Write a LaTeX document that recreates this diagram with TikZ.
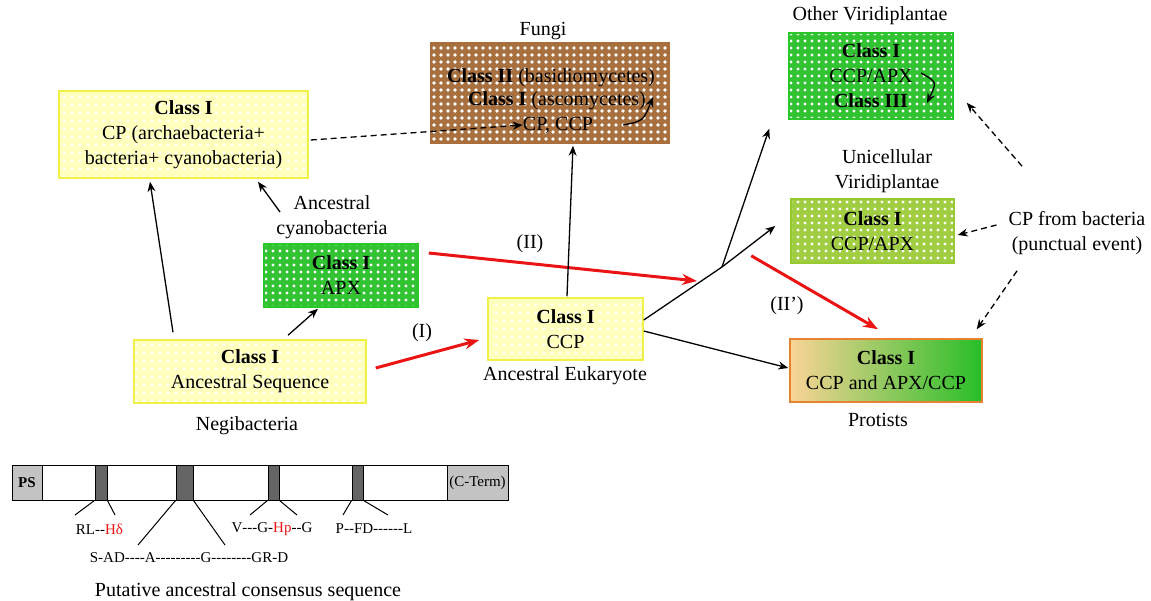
\documentclass[tikz,border=0pt]{standalone}
\usepackage{fontspec}
\setmainfont{Liberation Serif}
\usetikzlibrary{arrows.meta,patterns.meta,calc}
\definecolor{ybord}{RGB}{240,240,70}
\definecolor{yfill}{RGB}{255,255,190}
\definecolor{gbord}{RGB}{40,200,40}
\definecolor{gfill}{RGB}{50,195,50}
\definecolor{lgbord}{RGB}{150,200,50}
\definecolor{lgfill}{RGB}{160,205,65}
\definecolor{bbord}{RGB}{170,110,60}
\definecolor{bfill}{RGB}{168,112,62}
\definecolor{porange}{RGB}{250,212,150}
\definecolor{pgreen}{RGB}{40,190,40}
\definecolor{pbord}{RGB}{230,130,50}
\definecolor{redarr}{RGB}{235,20,20}
\definecolor{seqgray}{RGB}{195,195,195}
\definecolor{bandgray}{RGB}{100,100,100}
\newcommand\hy{\mbox{-}}
\begin{document}
\begin{tikzpicture}[x=1pt,y=-1pt,
  txt/.style={font=\fontsize{20}{25}\selectfont, align=center, inner sep=0pt},
  seqtxt/.style={font=\fontsize{15}{18}\selectfont, inner sep=0pt},
  boxbase/.style={txt, line width=1.5pt},
  ybox/.style={boxbase, draw=ybord, preaction={fill=yfill}, preaction={pattern={Dots[distance=8pt,radius=1.5pt]}, pattern color=white}},
  gbox/.style={boxbase, draw=gbord, preaction={fill=gfill}, preaction={pattern={Dots[distance=7pt,radius=1.7pt]}, pattern color=white}},
  lgbox/.style={boxbase, draw=lgbord, preaction={fill=lgfill}, preaction={pattern={Dots[distance=7pt,radius=1.7pt]}, pattern color=white}},
  bbox/.style={boxbase, draw=bbord, preaction={fill=bfill}, preaction={pattern={Dots[distance=7pt,radius=1.9pt]}, pattern color=white}},
  pbox/.style={boxbase, draw=pbord, left color=porange, right color=pgreen},
  arr/.style={-{Stealth[length=10pt,width=8pt]}, line width=1.3pt},
  darr/.style={arr, dash pattern=on 6pt off 4pt},
  rarr/.style={-{Stealth[length=15pt,width=11pt]}, line width=3pt, draw=redarr},
  band/.style={draw, line width=0.8pt, fill=bandgray, inner sep=0pt, minimum height=35pt},
  grayend/.style={draw, line width=0.8pt, fill=seqgray, inner sep=0pt, minimum height=35pt, font=\fontsize{15}{18}\selectfont},
]
\useasboundingbox (0,0) rectangle (1151,601);

% boxes
\node[ybox, minimum width=249pt, minimum height=87pt] (cp) at (183.5,134.5)
  {\textbf{Class I}\\CP (archaebacteria+\\bacteria+ cyanobacteria)};
\node[bbox, minimum width=238pt, minimum height=100pt] (fungi) at (550,93) {};
\node[txt] (f1) at (551,78) {\textbf{Class II} (basidiomycetes)};
\node[txt] (f2) at (557,101) {\textbf{Class I} (ascomycetes)};
\node[txt] (f3) at (558,125) {CP, CCP};
\node[gbox, minimum width=164pt, minimum height=86pt] (ov) at (871,76)
  {\textbf{Class I}\\CCP/APX\\\textbf{Class III}};
\node[lgbox, minimum width=163pt, minimum height=64pt] (uv) at (872.5,231)
  {\textbf{Class I}\\CCP/APX};
\node[gbox, minimum width=154pt, minimum height=63pt] (apx) at (341,275.5)
  {\textbf{Class I}\\APX};
\node[ybox, minimum width=232pt, minimum height=63pt] (anc) at (250,371.5)
  {\textbf{Class I}\\Ancestral Sequence};
\node[ybox, minimum width=155pt, minimum height=62pt] (ccp) at (565.5,329)
  {\textbf{Class I}\\CCP};
\node[pbox, minimum width=192pt, minimum height=63pt] (prot) at (886,370.5)
  {\textbf{Class I}\\CCP and APX/CCP};

% labels
\node[txt] (fungilbl) at (543,31) {Fungi};
\node[txt] (ovlbl) at (870,16) {Other Viridiplantae};
\node[txt] (uvlbl) at (887,171) {Unicellular\\Viridiplantae};
\node[txt] (bact) at (1077,233) {CP from bacteria\\(punctual event)};
\node[txt] (cyan) at (332,217) {Ancestral\\cyanobacteria};
\node[txt] (negi) at (247,426) {Negibacteria};
\node[txt] (eukl) at (565,376) {Ancestral Eukaryote};
\node[txt] (protl) at (878,420) {Protists};
\node[txt] (l1) at (422,333) {(I)};
\node[txt] (l2) at (530,244) {(II)};
\node[txt] (l3) at (787,306) {(II')};

% connectors
\coordinate (jn) at (722,267);
\coordinate (r2end) at (697,281);
\draw[arr] ($(anc.north)+(-77,-7)$) -- ($(cp.south)+(-33.5,3)$);
\draw[arr] ($(cyan.center)+(-52,-5)$) -- ($(cp.south)+(74.5,3)$);
\draw[arr] ($(anc.north)+(38,-4)$) -- ($(apx.south)+(-23,1)$);
\draw[rarr] ($(anc.east)+(9,-3.5)$) -- ($(ccp.west)+(-8,11)$);
\draw[rarr] ($(apx.east)+(10,-22.5)$) -- (r2end);
\draw[arr] ($(ccp.north)+(1.5,-1)$) -- ($(fungi.south)+(23,2)$);
\draw[darr] ($(cp.east)+(2,5.5)$) -- (f3.west);
\draw[arr] ($(f3.east)+(30,0)$) .. controls ($(f3.east)+(50,-4)$) .. ($(f2.east)+(7,-4)$);
\draw[line width=1.3pt] ($(ccp.east)+(0,-9)$) -- (jn);
\draw[arr] (jn) -- ($(ov.south west)+(-19,9)$);
\draw[arr] (jn) -- ($(uv.west)+(-15,-5)$);
\draw[arr] ($(ccp.east)+(0,2)$) -- ($(prot.west)+(-1,-2.5)$);
\draw[rarr] ($(uv.south west)+(-39,-8)$) -- ($(prot.north)+(-8,-9)$);
\draw[arr] ($(ov.center)+(50,-3)$) .. controls ($(ov.center)+(66,6)$) .. ($(ov.center)+(56,27)$);
\draw[darr] ($(bact.north)+(-55,-45)$) -- ($(ov.south east)+(13,-17)$);
\draw[darr] ($(bact.west)+(-12,-8)$) -- ($(uv.east)+(3,4)$);
\draw[darr] ($(bact.south)+(-60,16)$) -- ($(prot.north east)+(-6,-9)$);

% sequence bar
\draw[line width=0.8pt] (12,465) rectangle (508,500);
\node[grayend, minimum width=30pt, font=\fontsize{15}{18}\selectfont\bfseries] (ps) at (27,482.5) {PS};
\node[grayend, minimum width=61pt] (ct) at (477.5,482.5) {(C-Term)};
\node[band, minimum width=12pt] (b1) at (101,482.5) {};
\node[band, minimum width=17pt] (b2) at (184.5,482.5) {};
\node[band, minimum width=11pt] (b3) at (273.5,482.5) {};
\node[band, minimum width=11pt] (b4) at (357.5,482.5) {};
\node[seqtxt] (s1) at (99.5,529) {RL\hy\hy\textcolor{redarr}{Hδ}};
\node[seqtxt] (s2) at (189,558) {S\hy AD\hy\hy\hy\hy A\hy\hy\hy\hy\hy\hy\hy\hy\hy G\hy\hy\hy\hy\hy\hy\hy\hy GR\hy D};
\node[seqtxt] (s3) at (272,529) {V\hy\hy\hy G\hy\textcolor{redarr}{Hp}\hy\hy G};
\node[seqtxt] (s4) at (374,529) {P\hy\hy FD\hy\hy\hy\hy\hy\hy L};
\node[txt] (seqcap) at (248,592) {Putative ancestral consensus sequence};
\draw[line width=1pt] (b1.south west) -- (75,515);
\draw[line width=1pt] (b1.south east) -- (115,515);
\draw[line width=1pt] (b2.south west) -- (138,545);
\draw[line width=1pt] (b2.south east) -- (225,545);
\draw[line width=1pt] (b3.south west) -- (250,515);
\draw[line width=1pt] (b3.south east) -- (297,515);
\draw[line width=1pt] (b4.south west) -- (343,515);
\draw[line width=1pt] (b4.south east) -- (388,515);
\end{tikzpicture}
\end{document}
